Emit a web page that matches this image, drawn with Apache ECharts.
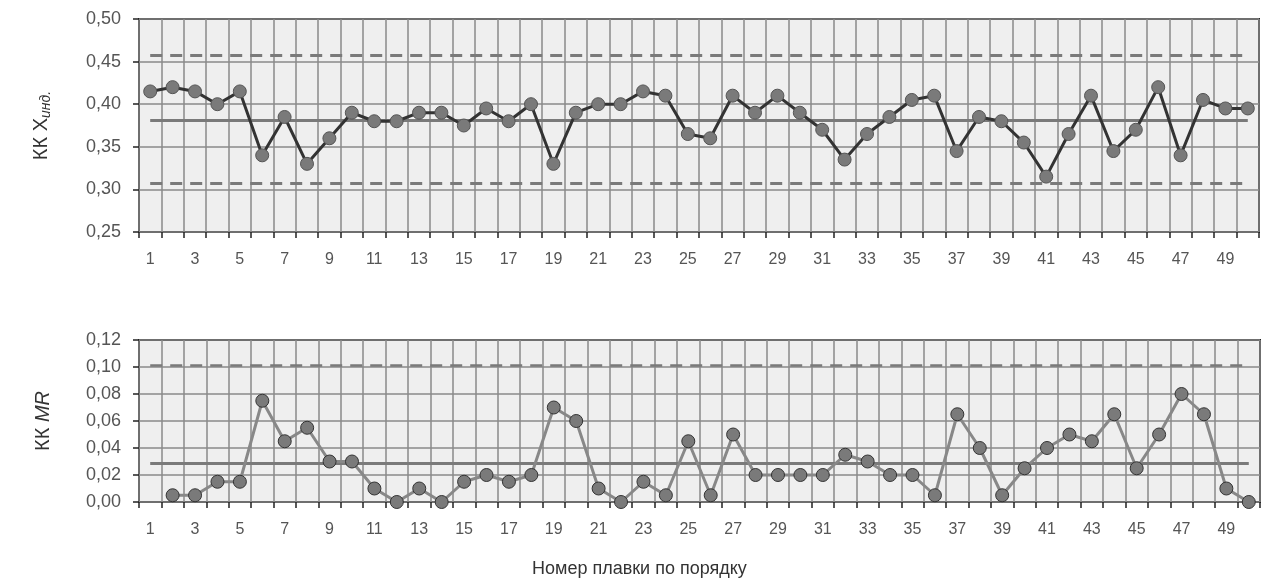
<!DOCTYPE html>
<html>
<head>
<meta charset="utf-8">
<script src="https://cdn.jsdelivr.net/npm/echarts@6/dist/echarts.min.js"></script>
<style>
  html, body { margin: 0; padding: 0; background: #fff; }
  #chart { width: 1264px; height: 585px; }
</style>
</head>
<body>
<div id="chart"></div>
<script>
// heat numbers 1..50
var heats = [];
for (var i = 1; i <= 50; i++) heats.push(String(i));

// individual values (X chart)
var xValues = [0.415, 0.42, 0.415, 0.40, 0.415, 0.34, 0.385, 0.33, 0.36, 0.39,
  0.38, 0.38, 0.39, 0.39, 0.375, 0.395, 0.38, 0.40, 0.33, 0.39,
  0.40, 0.40, 0.415, 0.41, 0.365, 0.36, 0.41, 0.39, 0.41, 0.39,
  0.37, 0.335, 0.365, 0.385, 0.405, 0.41, 0.345, 0.385, 0.38, 0.355,
  0.315, 0.365, 0.41, 0.345, 0.37, 0.42, 0.34, 0.405, 0.395, 0.395];

// moving ranges (MR chart), first heat has none
var mrValues = [null, 0.005, 0.005, 0.015, 0.015, 0.075, 0.045, 0.055, 0.03, 0.03,
  0.01, 0, 0.01, 0, 0.015, 0.02, 0.015, 0.02, 0.07, 0.06,
  0.01, 0, 0.015, 0.005, 0.045, 0.005, 0.05, 0.02, 0.02, 0.02,
  0.02, 0.035, 0.03, 0.02, 0.02, 0.005, 0.065, 0.04, 0.005, 0.025,
  0.04, 0.05, 0.045, 0.065, 0.025, 0.05, 0.08, 0.065, 0.01, 0];

// control limits
var xLimits = { ucl: 0.457, cl: 0.381, lcl: 0.307 };
var mrLimits = { ucl: 0.101, cl: 0.0285 };

var chart = echarts.init(document.getElementById("chart"));

var fontFamily = "Liberation Sans, Arial, sans-serif";
var gridLine = { color: "#8a8a8a", width: 1.5 };

function limitLine(value, dashed, width) {
  return [
    { coord: ["1", value], lineStyle: { type: dashed ? [12, 8] : "solid", width: width, color: "#7a7a7a" } },
    { coord: ["50", value] }
  ];
}

function xAxisFor(gridIndex) {
  return {
    type: "category",
    gridIndex: gridIndex,
    data: heats,
    boundaryGap: true,
    axisLine: { show: false },
    axisTick: { show: true, interval: 0, length: 6, lineStyle: { color: "#222", width: 1.5 } },
    axisLabel: { interval: 1, margin: 20, fontSize: 16, color: "#555", fontFamily: fontFamily },
    splitLine: { show: true, interval: 0, lineStyle: gridLine }
  };
}

function fmt(v) { return v.toFixed(2).replace(".", ","); }

chart.setOption({
  animation: false,
  textStyle: { fontFamily: fontFamily },
  grid: [
    { left: 139, right: 5, top: 19, height: 213, show: true, backgroundColor: "#efefef", borderColor: "#222", borderWidth: 2 },
    { left: 139, right: 4, top: 340, height: 162, show: true, backgroundColor: "#efefef", borderColor: "#222", borderWidth: 2 }
  ],
  xAxis: [xAxisFor(0), xAxisFor(1)],
  yAxis: [
    {
      type: "value", gridIndex: 0, min: 0.25, max: 0.5, interval: 0.05,
      axisLine: { show: false },
      axisTick: { show: true, length: 6, lineStyle: { color: "#222", width: 1.5 } },
      axisLabel: { formatter: fmt, fontSize: 18, color: "#555", margin: 18 },
      splitLine: { lineStyle: gridLine },
      name: "{a|КК X}{b|инд.}",
      nameLocation: "middle",
      nameRotate: 90,
      nameGap: 86,
      nameTextStyle: {
        rich: {
          a: { fontSize: 20, color: "#333", fontFamily: fontFamily },
          b: { fontSize: 14, color: "#333", fontStyle: "italic", fontFamily: fontFamily, padding: [9, 0, 0, 0] }
        }
      }
    },
    {
      type: "value", gridIndex: 1, min: 0, max: 0.12, interval: 0.02,
      axisLine: { show: false },
      axisTick: { show: true, length: 6, lineStyle: { color: "#222", width: 1.5 } },
      axisLabel: { formatter: fmt, fontSize: 18, color: "#555", margin: 18 },
      splitLine: { lineStyle: gridLine },
      name: "{a|КК }{b|MR}",
      nameLocation: "middle",
      nameRotate: 90,
      nameGap: 86,
      nameTextStyle: {
        rich: {
          a: { fontSize: 20, color: "#333", fontFamily: fontFamily },
          b: { fontSize: 20, color: "#333", fontStyle: "italic", fontFamily: fontFamily }
        }
      }
    }
  ],
  graphic: [
    {
      type: "text", left: 532, top: 560,
      style: { text: "Номер плавки по порядку", fontSize: 18, fill: "#333", fontFamily: fontFamily }
    }
  ],
  series: [
    {
      name: "X", type: "line", xAxisIndex: 0, yAxisIndex: 0,
      data: xValues,
      symbol: "circle", symbolSize: 13,
      lineStyle: { color: "#333", width: 3 },
      itemStyle: { color: "#7a7a7a", borderColor: "#555", borderWidth: 1 },
      z: 5,
      markLine: {
        silent: true, symbol: "none", label: { show: false },
        data: [
          limitLine(xLimits.ucl, true, 3),
          limitLine(xLimits.cl, false, 3),
          limitLine(xLimits.lcl, true, 3)
        ]
      }
    },
    {
      name: "MR", type: "line", xAxisIndex: 1, yAxisIndex: 1,
      data: mrValues,
      symbol: "circle", symbolSize: 13,
      lineStyle: { color: "#888", width: 3 },
      itemStyle: { color: "#7a7a7a", borderColor: "#333", borderWidth: 1 },
      z: 5,
      markLine: {
        silent: true, symbol: "none", label: { show: false },
        data: [
          limitLine(mrLimits.ucl, true, 2.5),
          limitLine(mrLimits.cl, false, 3)
        ]
      }
    }
  ]
});
</script>
</body>
</html>
